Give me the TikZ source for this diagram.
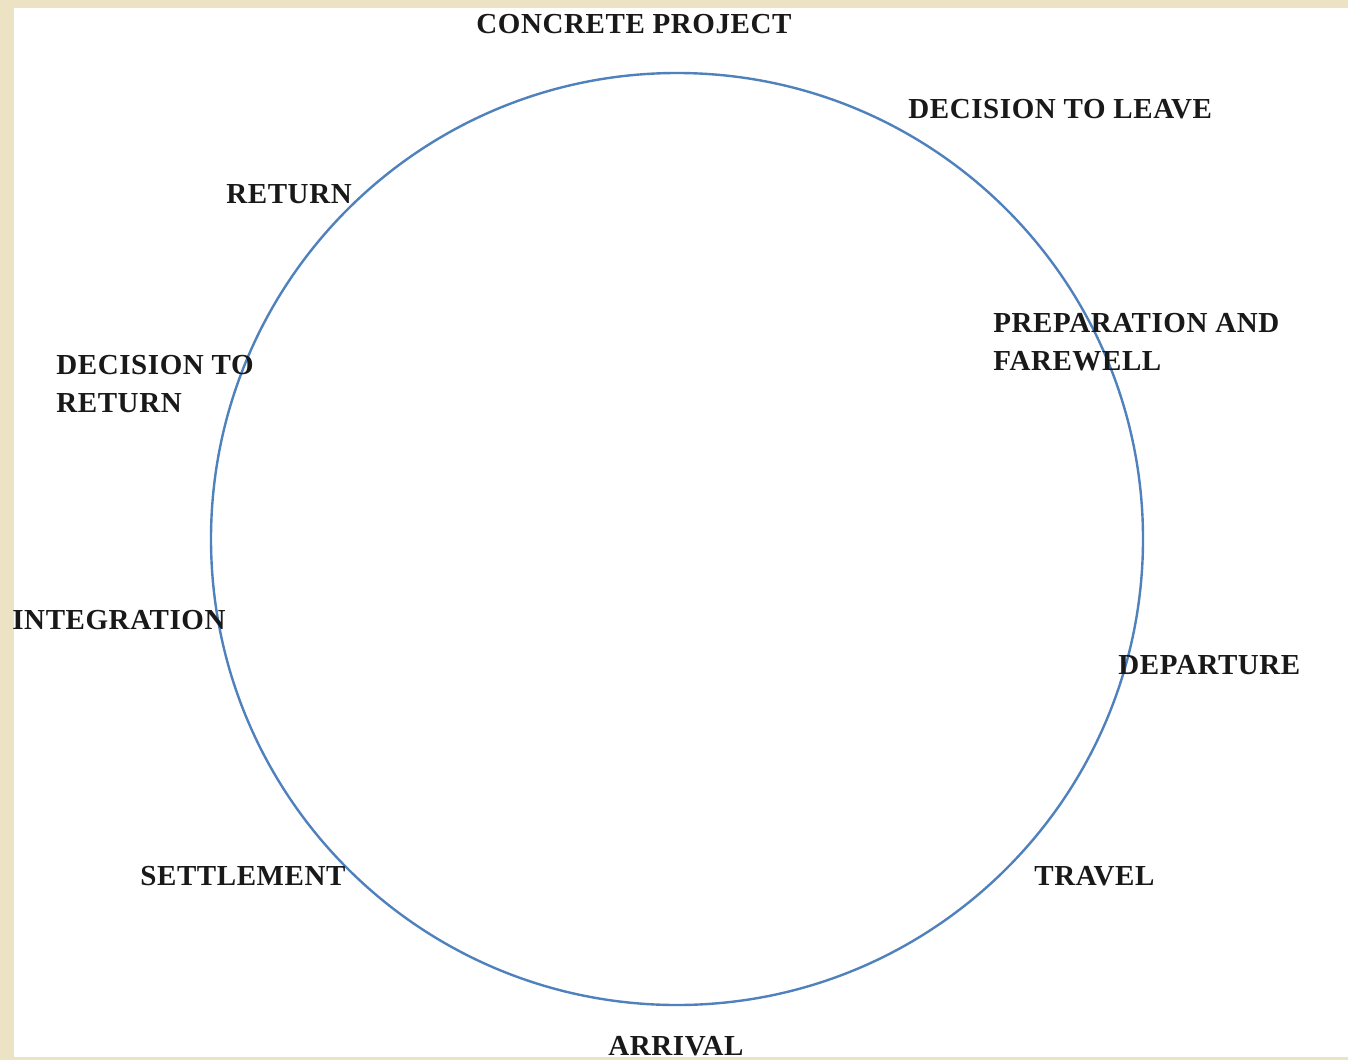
\documentclass[tikz,border=0pt]{standalone}
\usepackage{fontspec}
\setmainfont[LetterSpace=2]{Liberation Serif}
\usepackage{xcolor}
\usepackage{tikz}
\definecolor{cycleblue}{RGB}{79,129,189}
\definecolor{paper}{RGB}{236,226,196}
\tikzstyle{stage} = [font=\bfseries\fontsize{14.5}{19}\selectfont, text=black!90, inner sep=0pt, align=left]
\tikzstyle{cycle} = [circle, draw=cycleblue, line width=1.2pt, inner sep=0pt, minimum size=466pt]

\begin{document}
\begin{tikzpicture}[x=0.5pt, y=-0.5pt]
	\fill[paper] (0,0) rectangle (1348,1060);
	\fill[white] (14,8) rectangle (1348,1057);
	\useasboundingbox (0,0) rectangle (1348,1060);

	\node (ring) [cycle] at (677,539) {};

	\node (project) [stage] at (634,24) {CONCRETE PROJECT};
	\node (leave) [stage, anchor=west] at (908,109) {DECISION TO LEAVE};
	\node (farewell) [stage, anchor=west] at (993,342) {PREPARATION AND\\FAREWELL};
	\node (departure) [stage, anchor=west] at (1118,665) {DEPARTURE};
	\node (travel) [stage, anchor=west] at (1034,876) {TRAVEL};
	\node (arrival) [stage] at (676,1046) {ARRIVAL};
	\node (settlement) [stage, anchor=west] at (140,876) {SETTLEMENT};
	\node (integration) [stage, anchor=west] at (12,620) {INTEGRATION};
	\node (decide) [stage, anchor=west] at (56,384) {DECISION TO\\RETURN};
	\node (return) [stage, anchor=west] at (226,194) {RETURN};
\end{tikzpicture}
\end{document}
